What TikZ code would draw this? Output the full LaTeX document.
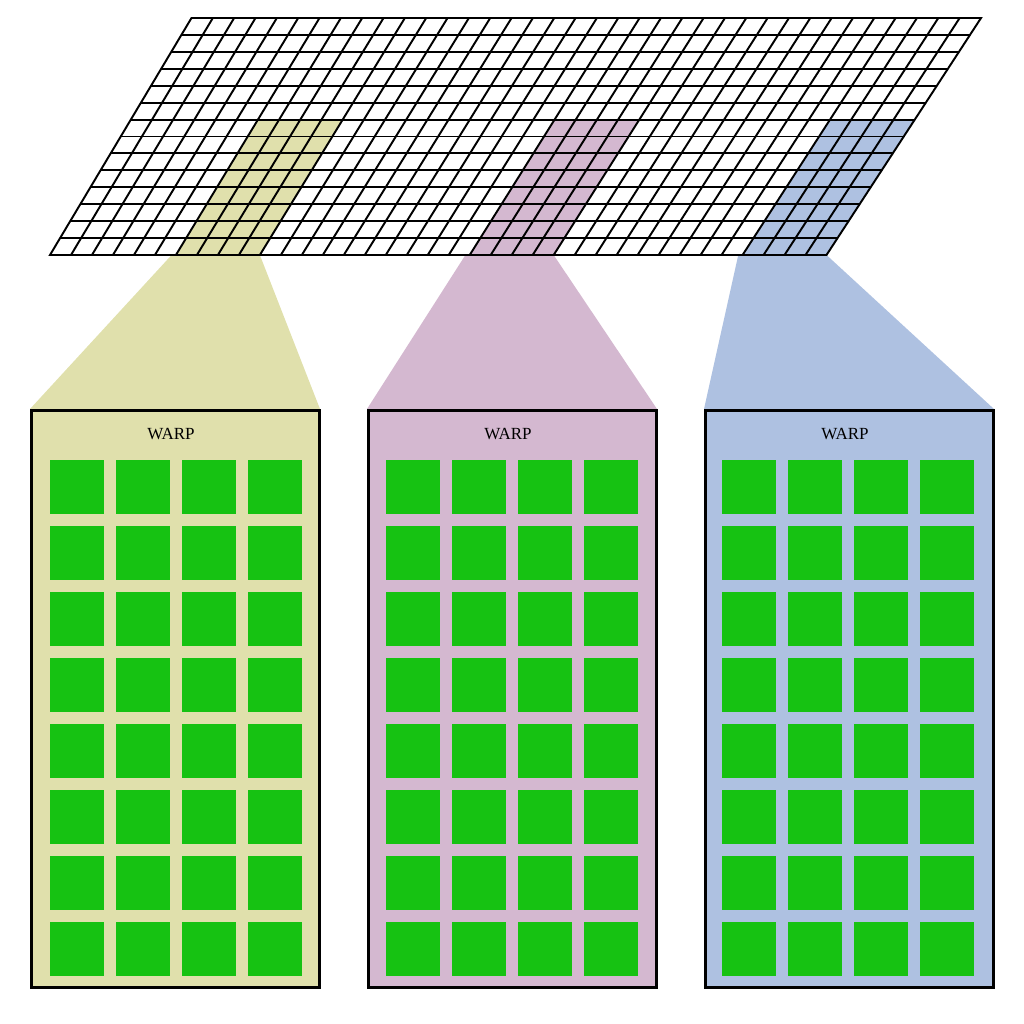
\documentclass[tikz,border=0pt]{standalone}
\usepackage{fontspec}
\setmainfont{Liberation Serif}
\usetikzlibrary{calc}
\definecolor{warpyellow}{RGB}{224,224,172}
\definecolor{warppink}{RGB}{212,184,208}
\definecolor{warpblue}{RGB}{174,193,225}
\definecolor{lanegreen}{RGB}{22,194,18}
\tikzset{every picture/.style={line width=0.75pt}}
\tikzset{gridline/.style={draw=black,line width=1.45pt},
  warpbox/.style={draw=black,line width=2.25pt},
  lane/.style={fill=lanegreen}}

\begin{document}
\begin{tikzpicture}[x=0.75pt,y=0.75pt,yscale=-1,xscale=1]
\useasboundingbox (0,0) rectangle (1024,1024);

% corners of the thread grid
\coordinate (TL) at (191.5,18);
\coordinate (TR) at (981,18);
\coordinate (BL) at (50,255);
\coordinate (BR) at (826.5,255);
\coordinate (L6) at ($(TL)!6/14!(BL)$);
\coordinate (R6) at ($(TR)!6/14!(BR)$);

% the three warps
\foreach \name/\colr/\c/\bx/\sx in {wy/warpyellow/6/30/50, wp/warppink/20/367/386, wb/warpblue/33/704/722}{
  \pgfmathsetmacro\u{\c/37}
  \pgfmathsetmacro\v{(\c+4)/37}
  \coordinate (\name-a) at ($(L6)!\u!(R6)$);
  \coordinate (\name-b) at ($(L6)!\v!(R6)$);
  \coordinate (\name-c) at ($(BL)!\u!(BR)$);
  \coordinate (\name-d) at ($(BL)!\v!(BR)$);
  \coordinate (\name-nw) at (\bx,409);
  \coordinate (\name-ne) at (\bx+290,409);
  % funnel
  \fill[\colr] ($(\name-c)+(-4.3,0)$) -- (\name-d) -- (\name-ne) -- (\name-nw) -- cycle;
  % highlighted cells
  \fill[\colr] (\name-a) -- (\name-b) -- (\name-d) -- (\name-c) -- cycle;
  % box
  \draw[warpbox,fill=\colr] (\bx+1,410.5) rectangle (\bx+289,987.5);
  \node[inner sep=0pt] (\name-t) at (\bx+141,434) {\fontsize{12.75}{15}\selectfont WARP};
  % threads
  \foreach \i in {0,...,3}
    \foreach \j in {0,...,7}
      \path[lane] (\sx+\i*66,460+\j*66) rectangle ++(54,54);
}

% grid lines
\foreach \i in {1,...,36}
  \draw[gridline] ($(TL)!\i/37!(TR)$) -- ($(BL)!\i/37!(BR)$);
\foreach \j in {1,...,13}
  \draw[gridline] ($(TL)!\j/14!(BL)$) -- ($(TR)!\j/14!(BR)$);
\draw[gridline] (TL) -- (TR) -- (BR) -- (BL) -- cycle;

\end{tikzpicture}
\end{document}
